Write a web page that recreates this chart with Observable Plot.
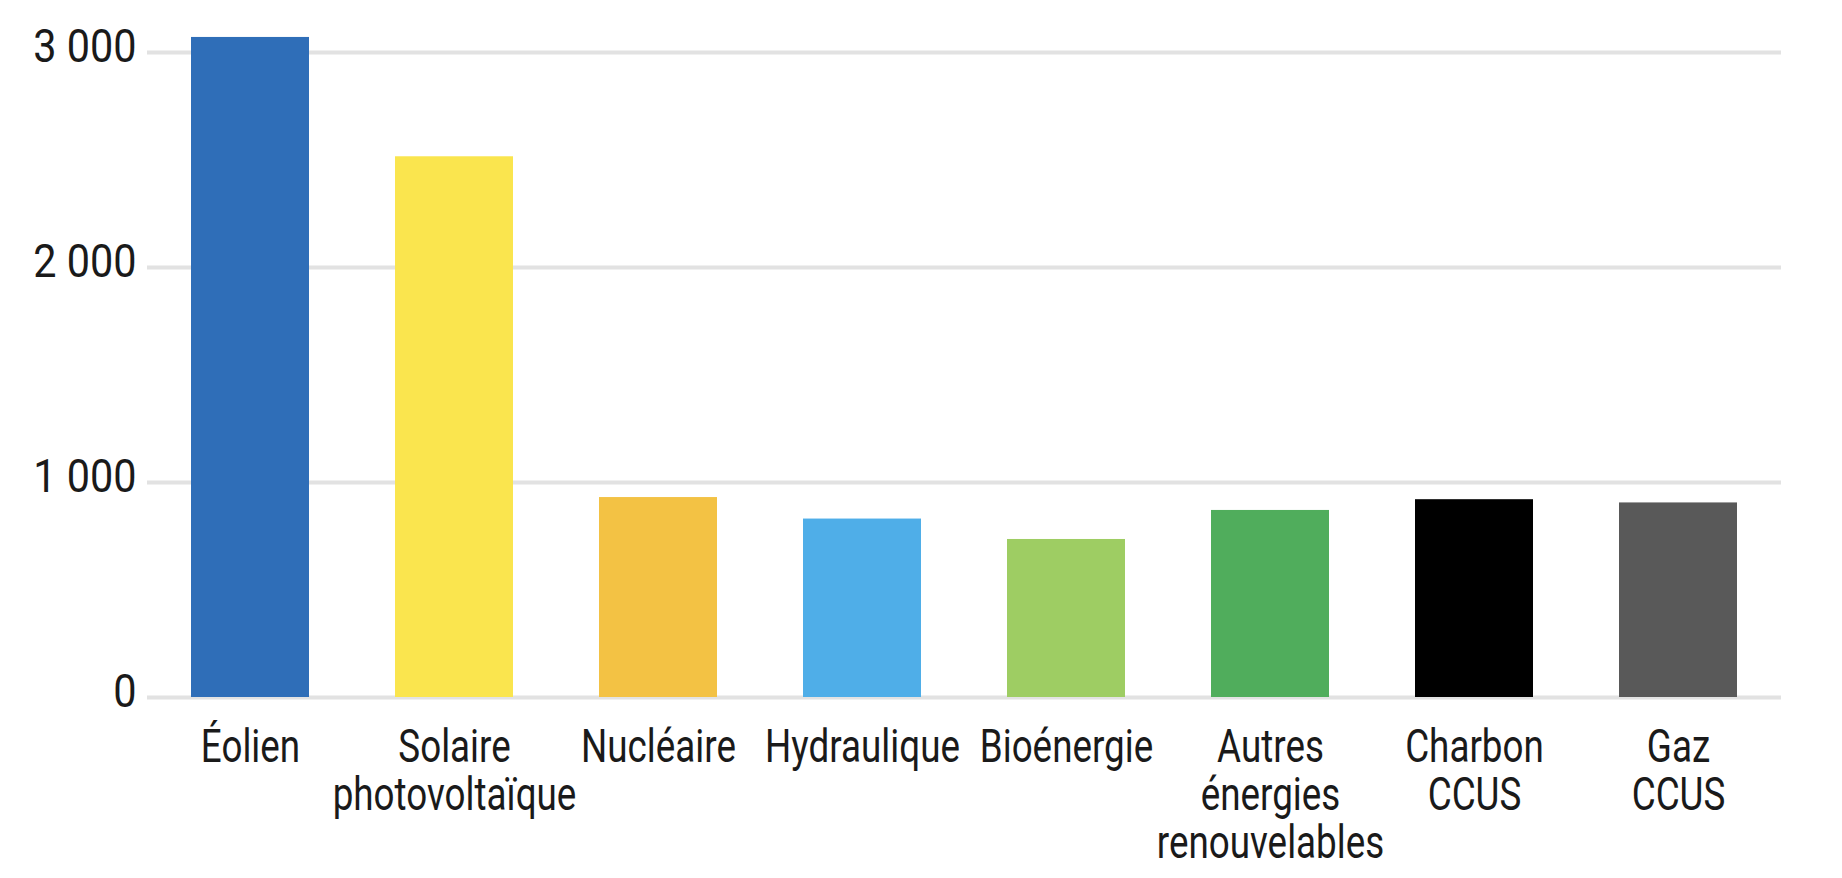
<!DOCTYPE html>
<html>
<head>
<meta charset="utf-8">
<script src="https://cdn.jsdelivr.net/npm/d3@7"></script>
<script src="https://cdn.jsdelivr.net/npm/@observablehq/plot@0.6"></script>
<style>
  html, body { margin: 0; padding: 0; background: #ffffff; }
  #chart svg { display: block; }
</style>
</head>
<body>
<div id="chart"></div>
<script>
const categories = ["Éolien", "Solaire photovoltaïque", "Nucléaire", "Hydraulique", "Bioénergie", "Autres énergies renouvelables", "Charbon CCUS", "Gaz CCUS"];
const tickLabels = ["Éolien", "Solaire\nphotovoltaïque", "Nucléaire", "Hydraulique", "Bioénergie", "Autres\nénergies\nrenouvelables", "Charbon\nCCUS", "Gaz\nCCUS"];
const values = [3070, 2515, 930, 830, 735, 870, 920, 905];
const colors = ["#2f6eb8", "#fae54e", "#f3c244", "#4faee8", "#9ecd63", "#50ad5c", "#000000", "#595959"];
const yTicks = [0, 1000, 2000, 3000];
const yTickLabels = ["0", "1 000", "2 000", "3 000"];

const data = categories.map((c, i) => ({category: c, value: values[i], color: colors[i]}));

const chart = Plot.plot({
  width: 1842,
  height: 878,
  marginLeft: 147,
  marginRight: 61,
  marginTop: 52,
  marginBottom: 181,
  style: {fontFamily: "Roboto, 'DejaVu Sans', sans-serif", color: "#1a1a1a", background: "#ffffff"},
  x: {domain: categories, paddingInner: 0.424, paddingOuter: 0.215},
  y: {domain: [0, 3000]},
  marks: [
    Plot.gridY(yTicks, {stroke: "#e2e2e2", strokeOpacity: 1, strokeWidth: 4}),
    Plot.barY(data, {x: "category", y: "value", fill: "color"}),
    Plot.axisY(yTicks, {
      tickSize: 0, tickPadding: 11, fontSize: 46, dy: -5,
      tickFormat: d => yTickLabels[yTicks.indexOf(d)], label: null
    }),
    Plot.axisX({
      tickSize: 0, tickPadding: 30, fontSize: 46, lineHeight: 1.05,
      tickFormat: d => tickLabels[categories.indexOf(d)], label: null
    })
  ]
});

document.getElementById("chart").appendChild(chart);

// condense the tick-label glyphs horizontally (the reference uses a condensed face)
function condense(selector, sx) {
  chart.querySelectorAll(selector).forEach(t => {
    const spans = t.querySelectorAll("tspan");
    const parts = spans.length ? Array.from(spans) : [t];
    parts.forEach(p => {
      const len = p.getComputedTextLength();
      p.setAttribute("textLength", (len * sx).toFixed(1));
      p.setAttribute("lengthAdjust", "spacingAndGlyphs");
    });
  });
}
condense('g[aria-label="x-axis tick label"] text', 0.8);
condense('g[aria-label="y-axis tick label"] text', 0.9);
</script>
</body>
</html>
